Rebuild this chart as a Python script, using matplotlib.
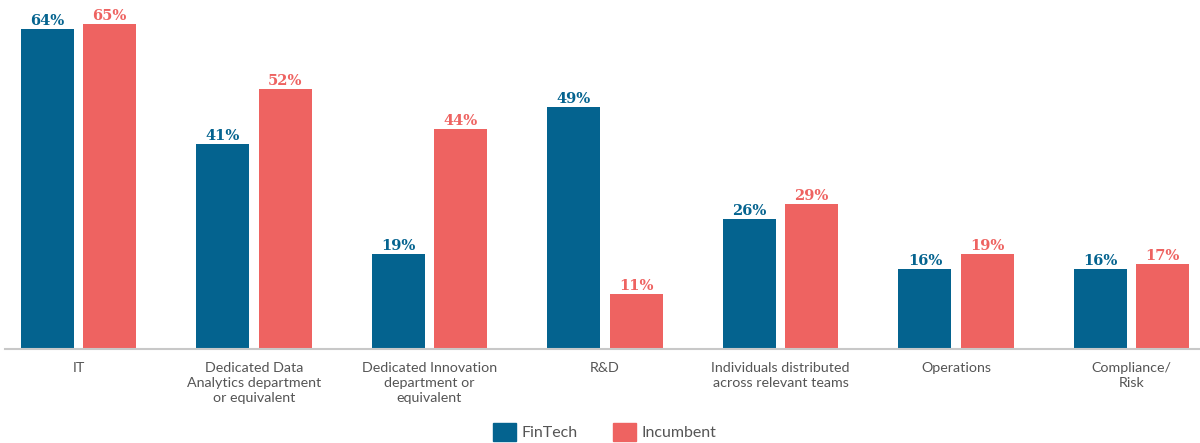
import matplotlib
matplotlib.use("Agg")
import matplotlib.pyplot as plt
import numpy as np
from matplotlib.patches import Patch

categories = ["IT", "Dedicated Data\nAnalytics department\nor equivalent",
              "Dedicated Innovation\ndepartment or\nequivalent", "R&D",
              "Individuals distributed\nacross relevant teams", "Operations",
              "Compliance/\nRisk"]
fintech = [64, 41, 19, 48.4, 26, 16, 16]
incumbent = [65, 52, 44, 11, 29, 19, 17]
fintech_labels = ["64%", "41%", "19%", "49%", "26%", "16%", "16%"]
incumbent_labels = ["65%", "52%", "44%", "11%", "29%", "19%", "17%"]
series_names = ["FinTech", "Incumbent"]

blue = "#04638F"
red = "#EE6361"
grey = "#555555"

fig = plt.figure(figsize=(12, 4.43), dpi=100)
ax = fig.add_axes([5/1200, 94/443, 1195/1200, 349/443])

x = np.arange(len(categories))
w = 0.302
off = 0.177
ax.bar(x - off, fintech, width=w, color=blue)
ax.bar(x + off, incumbent, width=w, color=red)

lab_kw = dict(ha="center", va="baseline", fontsize=10.5, fontweight="bold",
              family="DejaVu Serif")
for xi, v, s in zip(x, fintech, fintech_labels):
    ax.text(xi - off, v + 0.75, s, color=blue, **lab_kw)
for xi, v, s in zip(x, incumbent, incumbent_labels):
    ax.text(xi + off, v + 0.75, s, color=red, **lab_kw)

ax.set_xlim(-0.419, 6.39)
ax.set_ylim(0, 69.8)
ax.set_yticks([])
ax.set_xticks(x)
ax.set_xticklabels(categories, fontsize=10.3, color=grey, family="Lato", linespacing=1.32)
ax.tick_params(axis="x", length=0, pad=9)
for s in ["top", "right", "left"]:
    ax.spines[s].set_visible(False)
ax.spines["bottom"].set_color("#c8c8c8")
ax.spines["bottom"].set_linewidth(1.5)

handles = [Patch(color=blue), Patch(color=red)]
leg = fig.legend(handles, series_names, loc="center", bbox_to_anchor=(605/1200, 1 - 432/443),
                 ncol=2, frameon=False, handlelength=1.4, handleheight=1.4,
                 handletextpad=0.4, columnspacing=2.2, prop={"family": "Lato", "size": 11.5})
for t in leg.get_texts():
    t.set_color(grey)

fig.savefig("out.png", dpi=100)
